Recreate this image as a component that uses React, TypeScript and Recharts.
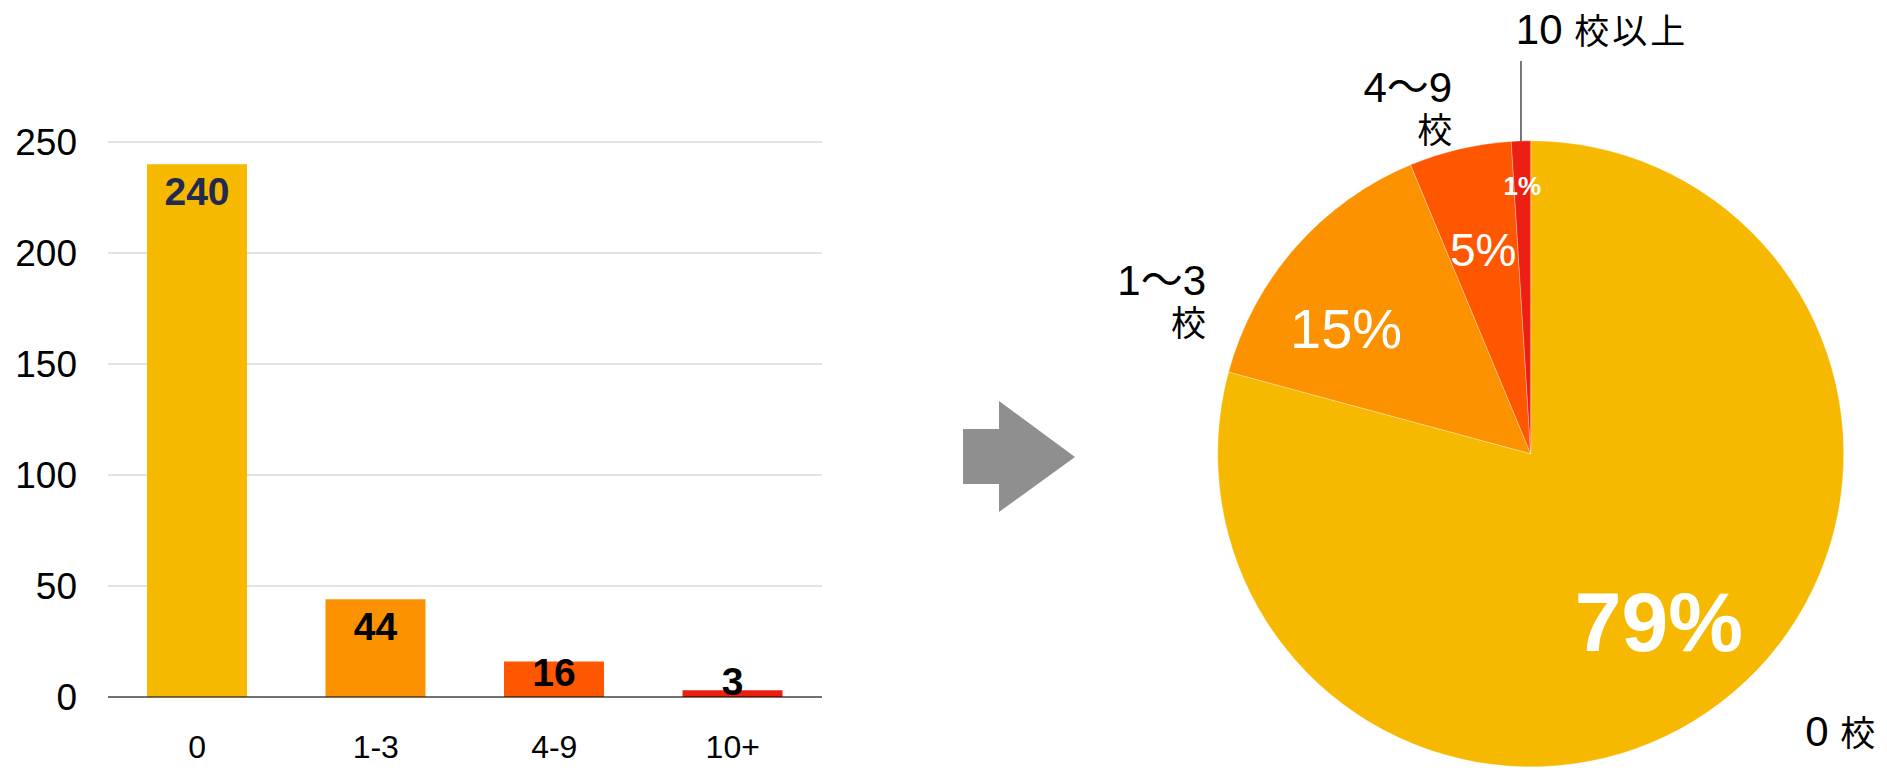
import React from 'react';
import { BarChart, Bar, XAxis, YAxis, CartesianGrid, Cell, LabelList, PieChart, Pie } from 'recharts';

// ---- data ----
const CATEGORIES = ['0', '1-3', '4-9', '10+'];
const SCHOOL_COUNTS = [240, 44, 16, 3];
const PIE_NAMES = ['0 校', '1〜3\n校', '4〜9\n校', '10 校以上'];
const Y_TICKS = [0, 50, 100, 150, 200, 250];

// ---- styles ----
const SLICE_COLORS = ['#F6B900', '#FC9200', '#FF5700', '#EC2012'];
const BAR_LABEL_COLORS = ['#222A50', '#000000', '#000000', '#000000'];
const PCT_FONT_SIZES = [84, 56, 46, 26];
const PCT_FONT_WEIGHTS = ['bold', 'normal', 'normal', 'bold'];
// [angle shift (deg), radius factor]
const PCT_LABEL_POLAR: [number, number][] = [[0, 0.674], [7, 0.714], [0, 0.671], [0, 0.856]];
// [angle shift (deg), radius factor, anchor]
const NAME_LABEL_POLAR: [number, number, 'start' | 'end'][] = [
  [5.8, 1.2805, 'start'],
  [15.2, 1.155, 'end'],
  [-0.5, 1.152, 'end'],
  [0.3, 1.31, 'start'],
];
const FONT = '"Liberation Sans", Arial, "Noto Sans CJK JP", sans-serif';

const barData = CATEGORIES.map((name, i) => ({ name, value: SCHOOL_COUNTS[i] }));
const pieData = PIE_NAMES.map((name, i) => ({ name, value: SCHOOL_COUNTS[i] }));

const RAD = Math.PI / 180;
const polar = (cx: number, cy: number, r: number, a: number) => ({
  x: cx + r * Math.cos(-a * RAD),
  y: cy + r * Math.sin(-a * RAD),
});

const renderBarLabel = (props: any) => {
  const vb = props.viewBox || {};
  const x = Number(vb.x ?? props.x);
  const y = Number(vb.y ?? props.y);
  const w = Number(vb.width ?? props.width);
  const h = Number(vb.height ?? props.height);
  const top = Math.min(y, y + h);
  const bottom = Math.max(y, y + h);
  const hh = bottom - top;
  let idx = props.index;
  if (idx === undefined || idx === null) idx = SCHOOL_COUNTS.indexOf(Number(props.value));
  let baseline: number;
  if (hh >= 60) baseline = top + 41;
  else if (hh >= 20) baseline = top + 25;
  else baseline = bottom - 2;
  return (
    <text
      x={x + w / 2}
      y={baseline}
      textAnchor="middle"
      fontSize={39}
      fontWeight="bold"
      fill={BAR_LABEL_COLORS[idx] ?? '#000'}
      fontFamily={FONT}
    >
      {props.value}
    </text>
  );
};

const CJK_RE = /([\u4e00-\u9fff]+)/;
const renderRuns = (line: string) =>
  line
    .split(CJK_RE)
    .filter((s) => s.length > 0)
    .map((s, k) =>
      /[\u4e00-\u9fff]/.test(s) ? (
        <tspan key={k} fontSize={35} letterSpacing={s.length > 1 ? 3 : 0}>
          {s}
        </tspan>
      ) : (
        <tspan key={k} fontSize={42}>
          {s}
        </tspan>
      )
    );

const renderPieLabel = (p: any) => {
  const { cx, cy, midAngle, outerRadius, percent, index } = p;
  const [ps, pr] = PCT_LABEL_POLAR[index];
  const pp = polar(cx, cy, outerRadius * pr, midAngle + ps);
  const fs = PCT_FONT_SIZES[index];
  const [ns, nr, anchor] = NAME_LABEL_POLAR[index];
  const np = polar(cx, cy, outerRadius * nr, midAngle + ns);
  const lines = PIE_NAMES[index].split('\n');
  const edge = polar(cx, cy, outerRadius, midAngle);
  return (
    <g>
      <text
        x={pp.x}
        y={pp.y + 0.358 * fs}
        textAnchor="middle"
        fill="#ffffff"
        fontSize={fs}
        fontWeight={PCT_FONT_WEIGHTS[index]}
        fontFamily={FONT}
      >
        {Math.round(percent * 100)}%
      </text>
      {percent < 0.03 && (
        <line x1={edge.x} y1={edge.y} x2={edge.x} y2={cy - outerRadius * 1.255} stroke="#222" strokeWidth={1.2} />
      )}
      {lines.map((ln, li) => (
        <text
          key={li}
          x={np.x}
          y={np.y + li * 41}
          textAnchor={anchor}
          fill="#000"
          fontFamily={FONT}
          style={{ whiteSpace: 'pre' }}
        >
          {renderRuns(ln)}
        </text>
      ))}
    </g>
  );
};

export default function App() {
  return (
    <div
      style={{
        position: 'absolute',
        left: 0,
        top: 0,
        width: 1887,
        height: 770,
        background: '#fff',
        fontFamily: FONT,
        overflow: 'hidden',
      }}
    >
      <div style={{ position: 'absolute', left: 0, top: 0 }}>
        <BarChart width={900} height={770} data={barData} margin={{ top: 142, right: 78, bottom: 13, left: 0 }}>
          <CartesianGrid vertical={false} stroke="#c8c8c8" />
          <XAxis
            dataKey="name"
            interval={0}
            axisLine={{ stroke: '#000', strokeWidth: 1.2 }}
            tickLine={false}
            tickSize={0}
            tickMargin={38}
            height={60}
            tick={{ fontSize: 32, fill: '#000' }}
          />
          <YAxis
            type="number"
            domain={[0, 250]}
            ticks={Y_TICKS}
            interval={0}
            axisLine={false}
            tickLine={false}
            tickSize={0}
            tickMargin={31}
            width={108}
            tick={{ fontSize: 37, fill: '#000' }}
          />
          <Bar dataKey="value" barSize={100} isAnimationActive={false}>
            {barData.map((d, i) => (
              <Cell key={d.name} fill={SLICE_COLORS[i]} />
            ))}
            <LabelList dataKey="value" content={renderBarLabel} />
          </Bar>
        </BarChart>
      </div>
      <div style={{ position: 'absolute', left: 900, top: 0 }}>
        <PieChart width={987} height={770} margin={{ top: 0, right: 0, bottom: 0, left: 0 }}>
          <Pie
            data={pieData}
            dataKey="value"
            nameKey="name"
            cx={630.7}
            cy={453.8}
            outerRadius={313}
            innerRadius={0}
            startAngle={90}
            endAngle={-270}
            stroke="#ffffff"
            strokeWidth={0.3}
            isAnimationActive={false}
            label={renderPieLabel}
            labelLine={false}
          >
            {pieData.map((d, i) => (
              <Cell key={d.name} fill={SLICE_COLORS[i]} />
            ))}
          </Pie>
        </PieChart>
      </div>
      <svg
        width={1887}
        height={770}
        style={{ position: 'absolute', left: 0, top: 0, pointerEvents: 'none' }}
      >
        <polygon
          points="963,429 999,429 999,401 1075,457 999,512 999,484 963,484"
          fill="#8f8f8f"
        />
      </svg>
    </div>
  );
}
